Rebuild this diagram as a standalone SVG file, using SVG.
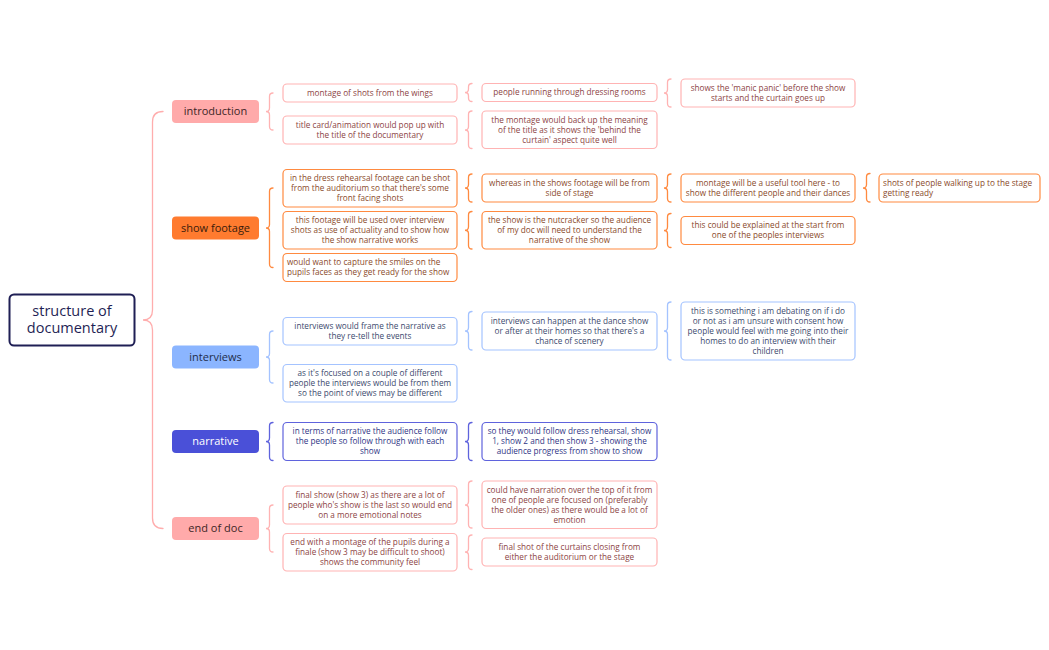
<svg xmlns="http://www.w3.org/2000/svg" width="1049" height="650" viewBox="0 0 1049 650">
<style>
  text { font-family: "Open Sans", "Noto Sans", "DejaVu Sans", sans-serif; }
  .t { font-size: 8.2px; text-anchor: middle; }
  .tl { font-size: 8.2px; text-anchor: start; }
  .b { fill: #ffffff; stroke-width: 1.2; }
  .pk { stroke: #ffb3b3; }
  .pkt { fill: #8c4444; }
  .or { stroke: #ff8a40; }
  .ort { fill: #8a4a2a; }
  .bl { stroke: #a4c3ff; }
  .blt { fill: #3c4a6e; }
  .in { stroke: #5f63dd; }
  .int { fill: #2f3585; }
  .l1 { font-size: 11px; text-anchor: middle; }
  .br { fill: none; stroke-width: 1.3; stroke-linecap: round; }
</style>
<rect width="1049" height="650" fill="#ffffff"/>

<g id="connectors">
  <path class="br" stroke="#ffadad" stroke-width="1.6" d="M163,111.5 Q152.5,111.5 152.5,122 L152.5,310 Q152.5,320 143,320 Q152.5,320 152.5,330 L152.5,518 Q152.5,528.5 163,528.5"/>
  <path class="br" stroke="#ffb3b3" d="M273,93 Q269.5,93 269.5,96.5 L269.5,108 Q269.5,111.5 266,111.5 Q269.5,111.5 269.5,115 L269.5,126.5 Q269.5,130 273,130"/>
  <path class="br" stroke="#ff8a40" d="M273,188 Q269.5,188 269.5,191.5 L269.5,224.5 Q269.5,228 266,228 Q269.5,228 269.5,231.5 L269.5,264 Q269.5,267.5 273,267.5"/>
  <path class="br" stroke="#a4c3ff" d="M273,331 Q269.5,331 269.5,334.5 L269.5,353.5 Q269.5,357 266,357 Q269.5,357 269.5,360.5 L269.5,379.5 Q269.5,383 273,383"/>
  <path class="br" stroke="#5f63dd" d="M273,422.5 Q269.5,422.5 269.5,426 L269.5,438 Q269.5,441.5 266,441.5 Q269.5,441.5 269.5,445 L269.5,457 Q269.5,460.5 273,460.5"/>
  <path class="br" stroke="#ffb3b3" d="M273,505 Q269.5,505 269.5,508.5 L269.5,525 Q269.5,528.5 266,528.5 Q269.5,528.5 269.5,532 L269.5,548.5 Q269.5,552 273,552"/>

  <path class="br" stroke="#ffb3b3" d="M472,83.5 Q468.5,83.5 468.5,87 L468.5,89 Q468.5,92.5 465,92.5 Q468.5,92.5 468.5,96 L468.5,98 Q468.5,101.5 472,101.5"/>
  <path class="br" stroke="#ffb3b3" d="M472,111 Q468.5,111 468.5,114.5 L468.5,126.5 Q468.5,130 465,130 Q468.5,130 468.5,133.5 L468.5,145 Q468.5,148.5 472,148.5"/>
  <path class="br" stroke="#ff8a40" d="M472,174 Q468.5,174 468.5,177.5 L468.5,184.5 Q468.5,188 465,188 Q468.5,188 468.5,191.5 L468.5,198.5 Q468.5,202 472,202"/>
  <path class="br" stroke="#ff8a40" d="M472,211.5 Q468.5,211.5 468.5,215 L468.5,226.75 Q468.5,230.25 465,230.25 Q468.5,230.25 468.5,233.75 L468.5,245.5 Q468.5,249 472,249"/>
  <path class="br" stroke="#a4c3ff" d="M472,311.5 Q468.5,311.5 468.5,315 L468.5,327.5 Q468.5,331 465,331 Q468.5,331 468.5,334.5 L468.5,346.5 Q468.5,350 472,350"/>
  <path class="br" stroke="#5f63dd" d="M472,422.5 Q468.5,422.5 468.5,426 L468.5,438 Q468.5,441.5 465,441.5 Q468.5,441.5 468.5,445 L468.5,457 Q468.5,460.5 472,460.5"/>
  <path class="br" stroke="#ffb3b3" d="M472,481 Q468.5,481 468.5,484.5 L468.5,501.5 Q468.5,505 465,505 Q468.5,505 468.5,508.5 L468.5,524.5 Q468.5,528 472,528"/>
  <path class="br" stroke="#ffb3b3" d="M472,535 Q468.5,535 468.5,538.5 L468.5,548.5 Q468.5,552 465,552 Q468.5,552 468.5,555.5 L468.5,566 Q468.5,569.5 472,569.5"/>

  <path class="br" stroke="#ffb3b3" d="M671,79 Q667.5,79 667.5,82.5 L667.5,89.5 Q667.5,93 664,93 Q667.5,93 667.5,96.5 L667.5,103.5 Q667.5,107 671,107"/>
  <path class="br" stroke="#ff8a40" d="M671,174 Q667.5,174 667.5,177.5 L667.5,184.5 Q667.5,188 664,188 Q667.5,188 667.5,191.5 L667.5,198.5 Q667.5,202 671,202"/>
  <path class="br" stroke="#ff8a40" d="M671,213.5 Q667.5,213.5 667.5,217 L667.5,227 Q667.5,230.5 664,230.5 Q667.5,230.5 667.5,234 L667.5,244 Q667.5,247.5 671,247.5"/>
  <path class="br" stroke="#a4c3ff" d="M671,302 Q667.5,302 667.5,305.5 L667.5,327.5 Q667.5,331 664,331 Q667.5,331 667.5,334.5 L667.5,356.5 Q667.5,360 671,360"/>

  <path class="br" stroke="#ff8a40" d="M870,173.5 Q866.5,173.5 866.5,177 L866.5,184.5 Q866.5,188 863,188 Q866.5,188 866.5,191.5 L866.5,198.5 Q866.5,202 870,202"/>
</g>

<g id="root">
  <rect x="9.5" y="294.5" width="125" height="51" rx="4.5" fill="#ffffff" stroke="#1f1f55" stroke-width="2"/>
  <text x="72" y="315.5" font-size="14.5" font-weight="500" fill="#1f1f55" text-anchor="middle">structure of</text>
  <text x="72" y="333" font-size="14.5" font-weight="500" fill="#1f1f55" text-anchor="middle">documentary</text>
</g>

<g id="introduction">
  <rect x="172" y="100" width="87" height="23" rx="4" fill="#ffaaaa"/>
  <text class="l1" x="215.5" y="115.3" fill="#3d2626">introduction</text>
</g>
<g id="show-footage">
  <rect x="172" y="216.5" width="87" height="23" rx="4" fill="#ff7b2f"/>
  <text class="l1" x="215.5" y="231.8" fill="#3a1c0c">show footage</text>
</g>
<g id="interviews">
  <rect x="172" y="345.5" width="87" height="23" rx="4" fill="#8bb5ff"/>
  <text class="l1" x="215.5" y="360.8" fill="#1f2d4a">interviews</text>
</g>
<g id="narrative">
  <rect x="172" y="430" width="87" height="23" rx="4" fill="#4a50d8"/>
  <text class="l1" x="215.5" y="445.3" fill="#ffffff">narrative</text>
</g>
<g id="end-of-doc">
  <rect x="172" y="517" width="87" height="23" rx="4" fill="#ffaaaa"/>
  <text class="l1" x="215.5" y="532.3" fill="#3d2626">end of doc</text>
</g>

<g id="n-montage-wings">
  <rect class="b pk" x="283" y="84" width="174" height="18" rx="4"/>
  <text class="t pkt" x="370" y="95.8">montage of shots from the wings</text>
</g>
<g id="n-title-card">
  <rect class="b pk" x="283" y="116" width="174" height="28" rx="4"/>
  <text class="t pkt"><tspan x="370" y="127.8">title card/animation would pop up with</tspan><tspan x="370" y="137.8">the title of the documentary</tspan></text>
</g>
<g id="n-dress-rehearsal">
  <rect class="b or" x="283" y="169.5" width="174" height="37.5" rx="4"/>
  <text class="t ort"><tspan x="370" y="181">in the dress rehearsal footage can be shot</tspan><tspan x="370" y="191">from the auditorium so that there's some</tspan><tspan x="370" y="201">front facing shots</tspan></text>
</g>
<g id="n-footage-over">
  <rect class="b or" x="283" y="211.5" width="174" height="37.5" rx="4"/>
  <text class="t ort"><tspan x="370" y="223">this footage will be used over interview</tspan><tspan x="370" y="233">shots as use of actuality and to show how</tspan><tspan x="370" y="243">the show narrative works</tspan></text>
</g>
<g id="n-smiles">
  <rect class="b or" x="283" y="253.5" width="174" height="28" rx="4"/>
  <text class="tl ort"><tspan x="287" y="265.3">would want to capture the smiles on the</tspan><tspan x="287" y="275.3">pupils faces as they get ready for the show</tspan></text>
</g>
<g id="n-frame-narrative">
  <rect class="b bl" x="283" y="317.5" width="174" height="27.5" rx="4"/>
  <text class="t blt"><tspan x="370" y="329">interviews would frame the narrative as</tspan><tspan x="370" y="339">they re-tell the events</tspan></text>
</g>
<g id="n-focused">
  <rect class="b bl" x="283" y="364.5" width="174" height="37.5" rx="4"/>
  <text class="t blt"><tspan x="370" y="376">as it's focused on a couple of different</tspan><tspan x="370" y="386">people the interviews would be from them</tspan><tspan x="370" y="396">so the point of views may be different</tspan></text>
</g>
<g id="n-terms-narrative">
  <rect class="b in" x="283" y="422.5" width="174" height="38" rx="4"/>
  <text class="t int"><tspan x="370" y="434.3">in terms of narrative the audience follow</tspan><tspan x="370" y="444.3">the people so follow through with each</tspan><tspan x="370" y="454.3">show</tspan></text>
</g>
<g id="n-final-show">
  <rect class="b pk" x="283" y="486" width="174" height="38" rx="4"/>
  <text class="t pkt"><tspan x="370" y="497.8">final show (show 3) as there are a lot of</tspan><tspan x="370" y="507.8">people who's show is the last so would end</tspan><tspan x="370" y="517.8">on a more emotional notes</tspan></text>
</g>
<g id="n-finale">
  <rect class="b pk" x="283" y="533.5" width="174" height="37.5" rx="4"/>
  <text class="t pkt"><tspan x="370" y="545">end with a montage of the pupils during a</tspan><tspan x="370" y="555">finale (show 3 may be difficult to shoot)</tspan><tspan x="370" y="565">shows the community feel</tspan></text>
</g>

<g id="n-dressing-rooms">
  <rect class="b pk" x="482" y="83.5" width="175" height="18" rx="4"/>
  <text class="t pkt" x="569.5" y="95.3">people running through dressing rooms</text>
</g>
<g id="n-back-up">
  <rect class="b pk" x="482" y="111" width="175" height="37.5" rx="4"/>
  <text class="t pkt"><tspan x="569.5" y="122.5">the montage would back up the meaning</tspan><tspan x="569.5" y="132.5">of the title as it shows the 'behind the</tspan><tspan x="569.5" y="142.5">curtain' aspect quite well</tspan></text>
</g>
<g id="n-side-stage">
  <rect class="b or" x="482" y="174" width="175" height="28" rx="4"/>
  <text class="t ort"><tspan x="569.5" y="185.8">whereas in the shows footage will be from</tspan><tspan x="569.5" y="195.8">side of stage</tspan></text>
</g>
<g id="n-nutcracker">
  <rect class="b or" x="482" y="211.5" width="175" height="37.5" rx="4"/>
  <text class="t ort"><tspan x="569.5" y="223">the show is the nutcracker so the audience</tspan><tspan x="569.5" y="233">of my doc will need to understand the</tspan><tspan x="569.5" y="243">narrative of the show</tspan></text>
</g>
<g id="n-dance-show">
  <rect class="b bl" x="482" y="312" width="175" height="38" rx="4"/>
  <text class="t blt"><tspan x="569.5" y="323.8">interviews can happen at the dance show</tspan><tspan x="569.5" y="333.8">or after at their homes so that there's a</tspan><tspan x="569.5" y="343.8">chance of scenery</tspan></text>
</g>
<g id="n-follow-rehearsal">
  <rect class="b in" x="482" y="422.5" width="175" height="38" rx="4"/>
  <text class="t int"><tspan x="569.5" y="434.3">so they would follow dress rehearsal, show</tspan><tspan x="569.5" y="444.3">1, show 2 and then show 3 - showing the</tspan><tspan x="569.5" y="454.3">audience progress from show to show</tspan></text>
</g>
<g id="n-narration">
  <rect class="b pk" x="482" y="481" width="175" height="47.5" rx="4"/>
  <text class="t pkt"><tspan x="569.5" y="492.5">could have narration over the top of it from</tspan><tspan x="569.5" y="502.5">one of people are focused on (preferably</tspan><tspan x="569.5" y="512.5">the older ones) as there would be a lot of</tspan><tspan x="569.5" y="522.5">emotion</tspan></text>
</g>
<g id="n-curtains">
  <rect class="b pk" x="482" y="538" width="175" height="28" rx="4"/>
  <text class="t pkt"><tspan x="569.5" y="549.8">final shot of the curtains closing from</tspan><tspan x="569.5" y="559.8">either the auditorium or the stage</tspan></text>
</g>

<g id="n-manic-panic">
  <rect class="b pk" x="681" y="79" width="174" height="28" rx="4"/>
  <text class="t pkt"><tspan x="768" y="90.8">shows the 'manic panic' before the show</tspan><tspan x="768" y="100.8">starts and the curtain goes up</tspan></text>
</g>
<g id="n-useful-tool">
  <rect class="b or" x="681" y="174" width="174" height="28" rx="4"/>
  <text class="t ort"><tspan x="768" y="185.8">montage will be a useful tool here - to</tspan><tspan x="768" y="195.8">show the different people and their dances</tspan></text>
</g>
<g id="n-explained">
  <rect class="b or" x="681" y="216.5" width="174" height="28" rx="4"/>
  <text class="t ort"><tspan x="768" y="228.3">this could be explained at the start from</tspan><tspan x="768" y="238.3">one of the peoples interviews</tspan></text>
</g>
<g id="n-debating">
  <rect class="b bl" x="681" y="302" width="174" height="58" rx="4"/>
  <text class="t blt"><tspan x="768" y="313.8">this is something i am debating on if i do</tspan><tspan x="768" y="323.8">or not as i am unsure with consent how</tspan><tspan x="768" y="333.8">people would feel with me going into their</tspan><tspan x="768" y="343.8">homes to do an interview with their</tspan><tspan x="768" y="353.8">children</tspan></text>
</g>

<g id="n-walking-up">
  <rect class="b or" x="879" y="174" width="161" height="28" rx="4"/>
  <text class="tl ort"><tspan x="883" y="185.8">shots of people walking up to the stage</tspan><tspan x="883" y="195.8">getting ready</tspan></text>
</g>
</svg>
